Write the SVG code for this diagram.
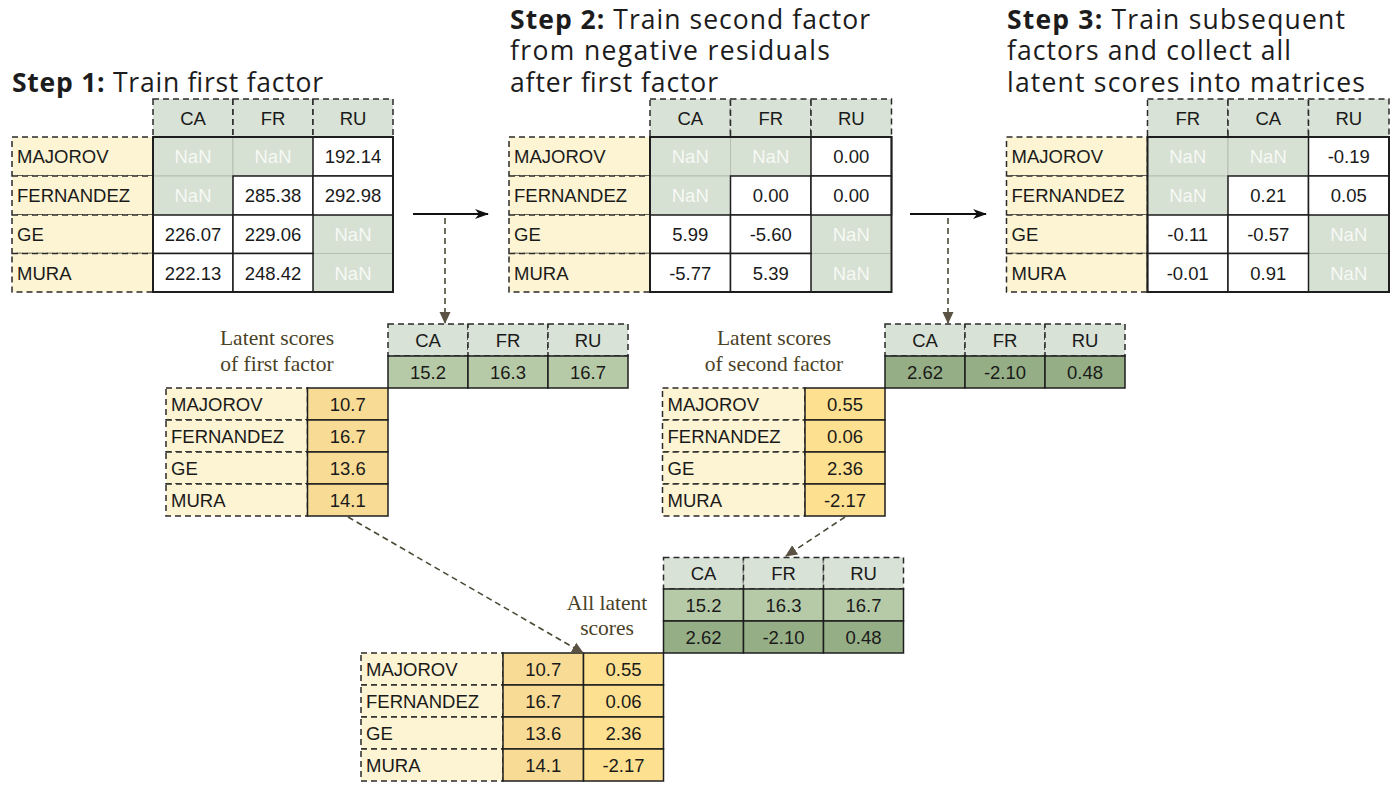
<svg xmlns="http://www.w3.org/2000/svg" width="1400" height="788" viewBox="0 0 1400 788">
<defs>
<style>
.title{font-family:"Open Sans","Noto Sans",sans-serif;font-size:26.5px;fill:#1c1c1c}
.b{font-weight:700}
.t{font-family:"Liberation Sans",Arial,sans-serif;font-size:18.5px;fill:#1a1a1a}
.c{text-anchor:middle}
.nt{fill:#f7f9f5}
.cap{font-family:"Liberation Serif","Times New Roman",serif;font-size:21.5px;fill:#4a4226;text-anchor:middle}
.hd{fill:#d9e2d6;stroke:#2a2a2a;stroke-width:1.5;stroke-dasharray:6 4}
.lb{fill:#fcf4d2;stroke:#2a2a2a;stroke-width:1.5;stroke-dasharray:6 4}
.w{fill:#ffffff;stroke:#1e1e1e;stroke-width:1.5}
.n{fill:#d6e0d3;stroke:#b4beb2;stroke-width:1}
.g1{fill:#b7caa8;stroke:#1e1e1e;stroke-width:1.5}
.g2{fill:#95ae85;stroke:#1e1e1e;stroke-width:1.5}
.y1{fill:#f8dc95;stroke:#1e1e1e;stroke-width:1.5}
.y2{fill:#fde190;stroke:#1e1e1e;stroke-width:1.5}
.ob{fill:none;stroke:#1e1e1e;stroke-width:2}
.sa{stroke:#111;stroke-width:2;fill:none}
.da{stroke:#4b4935;stroke-width:1.6;stroke-dasharray:6 4;fill:none}
</style>
<marker id="ah" markerUnits="userSpaceOnUse" markerWidth="14" markerHeight="12" refX="13" refY="6" orient="auto"><path d="M0,1 L14,6 L0,11 L4,6 Z" fill="#111"/></marker>
<marker id="dh" markerUnits="userSpaceOnUse" markerWidth="12" markerHeight="12" refX="11" refY="6" orient="auto"><path d="M0,0.5 L12,6 L0,11.5 Z" fill="#5a5242"/></marker>
</defs>
<rect width="1400" height="788" fill="#ffffff"/>

<g id="titles">
<text class="title" x="12" y="91.5" textLength="311" lengthAdjust="spacing"><tspan class="b">Step 1:</tspan> Train first factor</text>
<text class="title" x="510" y="28.5" textLength="360" lengthAdjust="spacing"><tspan class="b">Step 2:</tspan> Train second factor</text>
<text class="title" x="510" y="60" textLength="320" lengthAdjust="spacing">from negative residuals</text>
<text class="title" x="510" y="91.5" textLength="208" lengthAdjust="spacing">after first factor</text>
<text class="title" x="1007" y="28.5" textLength="338" lengthAdjust="spacing"><tspan class="b">Step 3:</tspan> Train subsequent</text>
<text class="title" x="1007" y="60" textLength="284" lengthAdjust="spacing">factors and collect all</text>
<text class="title" x="1007" y="91.5" textLength="358" lengthAdjust="spacing">latent scores into matrices</text>
</g>

<g id="table1">
<rect class="hd" x="153" y="99" width="80" height="38"/>
<rect class="hd" x="233" y="99" width="80" height="38"/>
<rect class="hd" x="313" y="99" width="80" height="38"/>
<rect class="lb" x="12" y="137" width="141" height="39"/>
<rect class="lb" x="12" y="176" width="141" height="39"/>
<rect class="lb" x="12" y="215" width="141" height="38.5"/>
<rect class="lb" x="12" y="253.5" width="141" height="38.5"/>
<rect class="n" x="153" y="137" width="80" height="39"/>
<rect class="n" x="233" y="137" width="80" height="39"/>
<rect class="n" x="153" y="176" width="80" height="39"/>
<rect class="n" x="313" y="215" width="80" height="38.5"/>
<rect class="n" x="313" y="253.5" width="80" height="38.5"/>
<rect class="w" x="313" y="137" width="80" height="39"/>
<rect class="w" x="233" y="176" width="80" height="39"/>
<rect class="w" x="313" y="176" width="80" height="39"/>
<rect class="w" x="153" y="215" width="80" height="38.5"/>
<rect class="w" x="233" y="215" width="80" height="38.5"/>
<rect class="w" x="153" y="253.5" width="80" height="38.5"/>
<rect class="w" x="233" y="253.5" width="80" height="38.5"/>
<rect class="ob" x="153" y="137" width="240" height="155"/>
<text class="t c" x="193" y="124.5">CA</text>
<text class="t c" x="273" y="124.5">FR</text>
<text class="t c" x="353" y="124.5">RU</text>
<text class="t" x="17" y="163">MAJOROV</text>
<text class="t" x="17" y="202">FERNANDEZ</text>
<text class="t" x="17" y="241">GE</text>
<text class="t" x="17" y="279.5">MURA</text>
<text class="t c nt" x="193" y="163">NaN</text>
<text class="t c nt" x="273" y="163">NaN</text>
<text class="t c" x="353" y="163">192.14</text>
<text class="t c nt" x="193" y="202">NaN</text>
<text class="t c" x="273" y="202">285.38</text>
<text class="t c" x="353" y="202">292.98</text>
<text class="t c" x="193" y="241">226.07</text>
<text class="t c" x="273" y="241">229.06</text>
<text class="t c nt" x="353" y="241">NaN</text>
<text class="t c" x="193" y="279.5">222.13</text>
<text class="t c" x="273" y="279.5">248.42</text>
<text class="t c nt" x="353" y="279.5">NaN</text>
</g>

<g id="table2">
<rect class="hd" x="650" y="99" width="80.5" height="38"/>
<rect class="hd" x="730.5" y="99" width="80.5" height="38"/>
<rect class="hd" x="811" y="99" width="80.5" height="38"/>
<rect class="lb" x="509" y="137" width="141" height="39"/>
<rect class="lb" x="509" y="176" width="141" height="39"/>
<rect class="lb" x="509" y="215" width="141" height="38.5"/>
<rect class="lb" x="509" y="253.5" width="141" height="38.5"/>
<rect class="n" x="650" y="137" width="80.5" height="39"/>
<rect class="n" x="730.5" y="137" width="80.5" height="39"/>
<rect class="n" x="650" y="176" width="80.5" height="39"/>
<rect class="n" x="811" y="215" width="80.5" height="38.5"/>
<rect class="n" x="811" y="253.5" width="80.5" height="38.5"/>
<rect class="w" x="811" y="137" width="80.5" height="39"/>
<rect class="w" x="730.5" y="176" width="80.5" height="39"/>
<rect class="w" x="811" y="176" width="80.5" height="39"/>
<rect class="w" x="650" y="215" width="80.5" height="38.5"/>
<rect class="w" x="730.5" y="215" width="80.5" height="38.5"/>
<rect class="w" x="650" y="253.5" width="80.5" height="38.5"/>
<rect class="w" x="730.5" y="253.5" width="80.5" height="38.5"/>
<rect class="ob" x="650" y="137" width="241.5" height="155"/>
<text class="t c" x="690.25" y="124.5">CA</text>
<text class="t c" x="770.75" y="124.5">FR</text>
<text class="t c" x="851.25" y="124.5">RU</text>
<text class="t" x="514" y="163">MAJOROV</text>
<text class="t" x="514" y="202">FERNANDEZ</text>
<text class="t" x="514" y="241">GE</text>
<text class="t" x="514" y="279.5">MURA</text>
<text class="t c nt" x="690.25" y="163">NaN</text>
<text class="t c nt" x="770.75" y="163">NaN</text>
<text class="t c" x="851.25" y="163">0.00</text>
<text class="t c nt" x="690.25" y="202">NaN</text>
<text class="t c" x="770.75" y="202">0.00</text>
<text class="t c" x="851.25" y="202">0.00</text>
<text class="t c" x="690.25" y="241">5.99</text>
<text class="t c" x="770.75" y="241">-5.60</text>
<text class="t c nt" x="851.25" y="241">NaN</text>
<text class="t c" x="690.25" y="279.5">-5.77</text>
<text class="t c" x="770.75" y="279.5">5.39</text>
<text class="t c nt" x="851.25" y="279.5">NaN</text>
</g>

<g id="table3">
<rect class="hd" x="1147.5" y="99" width="80.5" height="38"/>
<rect class="hd" x="1228" y="99" width="80.5" height="38"/>
<rect class="hd" x="1308.5" y="99" width="80.5" height="38"/>
<rect class="lb" x="1006.5" y="137" width="141" height="39"/>
<rect class="lb" x="1006.5" y="176" width="141" height="39"/>
<rect class="lb" x="1006.5" y="215" width="141" height="38.5"/>
<rect class="lb" x="1006.5" y="253.5" width="141" height="38.5"/>
<rect class="n" x="1147.5" y="137" width="80.5" height="39"/>
<rect class="n" x="1228" y="137" width="80.5" height="39"/>
<rect class="n" x="1147.5" y="176" width="80.5" height="39"/>
<rect class="n" x="1308.5" y="215" width="80.5" height="38.5"/>
<rect class="n" x="1308.5" y="253.5" width="80.5" height="38.5"/>
<rect class="w" x="1308.5" y="137" width="80.5" height="39"/>
<rect class="w" x="1228" y="176" width="80.5" height="39"/>
<rect class="w" x="1308.5" y="176" width="80.5" height="39"/>
<rect class="w" x="1147.5" y="215" width="80.5" height="38.5"/>
<rect class="w" x="1228" y="215" width="80.5" height="38.5"/>
<rect class="w" x="1147.5" y="253.5" width="80.5" height="38.5"/>
<rect class="w" x="1228" y="253.5" width="80.5" height="38.5"/>
<rect class="ob" x="1147.5" y="137" width="241.5" height="155"/>
<text class="t c" x="1187.75" y="124.5">FR</text>
<text class="t c" x="1268.25" y="124.5">CA</text>
<text class="t c" x="1348.75" y="124.5">RU</text>
<text class="t" x="1011.5" y="163">MAJOROV</text>
<text class="t" x="1011.5" y="202">FERNANDEZ</text>
<text class="t" x="1011.5" y="241">GE</text>
<text class="t" x="1011.5" y="279.5">MURA</text>
<text class="t c nt" x="1187.75" y="163">NaN</text>
<text class="t c nt" x="1268.25" y="163">NaN</text>
<text class="t c" x="1348.75" y="163">-0.19</text>
<text class="t c nt" x="1187.75" y="202">NaN</text>
<text class="t c" x="1268.25" y="202">0.21</text>
<text class="t c" x="1348.75" y="202">0.05</text>
<text class="t c" x="1187.75" y="241">-0.11</text>
<text class="t c" x="1268.25" y="241">-0.57</text>
<text class="t c nt" x="1348.75" y="241">NaN</text>
<text class="t c" x="1187.75" y="279.5">-0.01</text>
<text class="t c" x="1268.25" y="279.5">0.91</text>
<text class="t c nt" x="1348.75" y="279.5">NaN</text>
</g>

<g id="latent1">
<text class="cap" x="277" y="345">Latent scores</text>
<text class="cap" x="277" y="371">of first factor</text>
<rect class="hd" x="388" y="324" width="80" height="32"/>
<rect class="hd" x="468" y="324" width="80" height="32"/>
<rect class="hd" x="548" y="324" width="80" height="32"/>
<rect class="g1" x="388" y="356" width="80" height="32"/>
<rect class="g1" x="468" y="356" width="80" height="32"/>
<rect class="g1" x="548" y="356" width="80" height="32"/>
<rect class="lb" x="166" y="388" width="141.5" height="32"/>
<rect class="lb" x="166" y="420" width="141.5" height="32"/>
<rect class="lb" x="166" y="452" width="141.5" height="32"/>
<rect class="lb" x="166" y="484" width="141.5" height="32"/>
<rect class="y1" x="307.5" y="388" width="80.5" height="32"/>
<rect class="y1" x="307.5" y="420" width="80.5" height="32"/>
<rect class="y1" x="307.5" y="452" width="80.5" height="32"/>
<rect class="y1" x="307.5" y="484" width="80.5" height="32"/>
<text class="t c" x="428" y="346.5">CA</text>
<text class="t c" x="508" y="346.5">FR</text>
<text class="t c" x="588" y="346.5">RU</text>
<text class="t c" x="428" y="378.5">15.2</text>
<text class="t c" x="508" y="378.5">16.3</text>
<text class="t c" x="588" y="378.5">16.7</text>
<text class="t" x="171" y="410.5">MAJOROV</text>
<text class="t" x="171" y="442.5">FERNANDEZ</text>
<text class="t" x="171" y="474.5">GE</text>
<text class="t" x="171" y="506.5">MURA</text>
<text class="t c" x="347.75" y="410.5">10.7</text>
<text class="t c" x="347.75" y="442.5">16.7</text>
<text class="t c" x="347.75" y="474.5">13.6</text>
<text class="t c" x="347.75" y="506.5">14.1</text>
</g>

<g id="latent2">
<text class="cap" x="774" y="345">Latent scores</text>
<text class="cap" x="774" y="371">of second factor</text>
<rect class="hd" x="885" y="324" width="80" height="32"/>
<rect class="hd" x="965" y="324" width="80" height="32"/>
<rect class="hd" x="1045" y="324" width="80" height="32"/>
<rect class="g2" x="885" y="356" width="80" height="32"/>
<rect class="g2" x="965" y="356" width="80" height="32"/>
<rect class="g2" x="1045" y="356" width="80" height="32"/>
<rect class="lb" x="662.5" y="388" width="142.5" height="32"/>
<rect class="lb" x="662.5" y="420" width="142.5" height="32"/>
<rect class="lb" x="662.5" y="452" width="142.5" height="32"/>
<rect class="lb" x="662.5" y="484" width="142.5" height="32"/>
<rect class="y2" x="805" y="388" width="80" height="32"/>
<rect class="y2" x="805" y="420" width="80" height="32"/>
<rect class="y2" x="805" y="452" width="80" height="32"/>
<rect class="y2" x="805" y="484" width="80" height="32"/>
<text class="t c" x="925" y="346.5">CA</text>
<text class="t c" x="1005" y="346.5">FR</text>
<text class="t c" x="1085" y="346.5">RU</text>
<text class="t c" x="925" y="378.5">2.62</text>
<text class="t c" x="1005" y="378.5">-2.10</text>
<text class="t c" x="1085" y="378.5">0.48</text>
<text class="t" x="667.5" y="410.5">MAJOROV</text>
<text class="t" x="667.5" y="442.5">FERNANDEZ</text>
<text class="t" x="667.5" y="474.5">GE</text>
<text class="t" x="667.5" y="506.5">MURA</text>
<text class="t c" x="845" y="410.5">0.55</text>
<text class="t c" x="845" y="442.5">0.06</text>
<text class="t c" x="845" y="474.5">2.36</text>
<text class="t c" x="845" y="506.5">-2.17</text>
</g>

<g id="all-latent">
<text class="cap" x="607" y="610">All latent</text>
<text class="cap" x="607" y="635">scores</text>
<rect class="hd" x="663.5" y="557.5" width="80" height="31.5"/>
<rect class="hd" x="743.5" y="557.5" width="80" height="31.5"/>
<rect class="hd" x="823.5" y="557.5" width="80" height="31.5"/>
<rect class="g1" x="663.5" y="589" width="80" height="32"/>
<rect class="g1" x="743.5" y="589" width="80" height="32"/>
<rect class="g1" x="823.5" y="589" width="80" height="32"/>
<rect class="g2" x="663.5" y="621" width="80" height="32"/>
<rect class="g2" x="743.5" y="621" width="80" height="32"/>
<rect class="g2" x="823.5" y="621" width="80" height="32"/>
<rect class="lb" x="361" y="653" width="142" height="32"/>
<rect class="lb" x="361" y="685" width="142" height="32"/>
<rect class="lb" x="361" y="717" width="142" height="32"/>
<rect class="lb" x="361" y="749" width="142" height="32"/>
<rect class="y1" x="503" y="653" width="80.5" height="32"/>
<rect class="y1" x="503" y="685" width="80.5" height="32"/>
<rect class="y1" x="503" y="717" width="80.5" height="32"/>
<rect class="y1" x="503" y="749" width="80.5" height="32"/>
<rect class="y2" x="583.5" y="653" width="80" height="32"/>
<rect class="y2" x="583.5" y="685" width="80" height="32"/>
<rect class="y2" x="583.5" y="717" width="80" height="32"/>
<rect class="y2" x="583.5" y="749" width="80" height="32"/>
<text class="t c" x="703.5" y="579.5">CA</text>
<text class="t c" x="783.5" y="579.5">FR</text>
<text class="t c" x="863.5" y="579.5">RU</text>
<text class="t c" x="703.5" y="611.5">15.2</text>
<text class="t c" x="783.5" y="611.5">16.3</text>
<text class="t c" x="863.5" y="611.5">16.7</text>
<text class="t c" x="703.5" y="643.5">2.62</text>
<text class="t c" x="783.5" y="643.5">-2.10</text>
<text class="t c" x="863.5" y="643.5">0.48</text>
<text class="t" x="366" y="675.5">MAJOROV</text>
<text class="t" x="366" y="707.5">FERNANDEZ</text>
<text class="t" x="366" y="739.5">GE</text>
<text class="t" x="366" y="771.5">MURA</text>
<text class="t c" x="543.25" y="675.5">10.7</text>
<text class="t c" x="543.25" y="707.5">16.7</text>
<text class="t c" x="543.25" y="739.5">13.6</text>
<text class="t c" x="543.25" y="771.5">14.1</text>
<text class="t c" x="623.5" y="675.5">0.55</text>
<text class="t c" x="623.5" y="707.5">0.06</text>
<text class="t c" x="623.5" y="739.5">2.36</text>
<text class="t c" x="623.5" y="771.5">-2.17</text>
</g>

<g id="connectors">
<line class="sa" x1="413" y1="214" x2="488" y2="214" marker-end="url(#ah)"/>
<line class="sa" x1="910" y1="214" x2="986" y2="214" marker-end="url(#ah)"/>
<line class="da" x1="445" y1="218" x2="445" y2="323" marker-end="url(#dh)"/>
<line class="da" x1="948" y1="218" x2="948" y2="323" marker-end="url(#dh)"/>
<line class="da" x1="348" y1="517" x2="583" y2="653" marker-end="url(#dh)"/>
<line class="da" x1="845" y1="517" x2="786" y2="556" marker-end="url(#dh)"/>
</g>
</svg>
